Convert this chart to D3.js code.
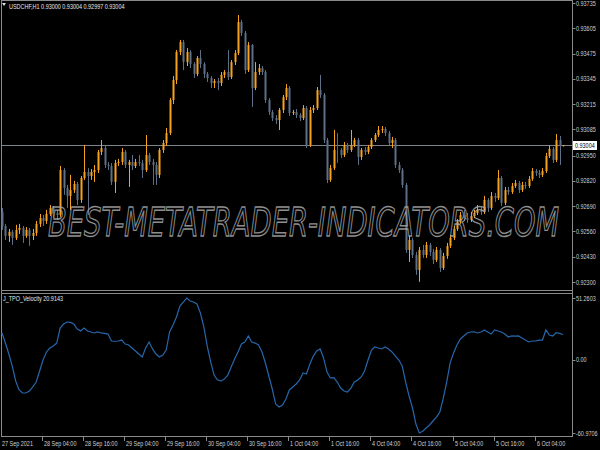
<!DOCTYPE html>
<meta charset="utf-8">

<!-- Load d3.js -->
<script src="https://d3js.org/d3.v7.min.js"></script>

<style>
  body { margin: 0; background: #000; }
  svg { display: block; }
</style>

<!-- Create a div where the graph will take place -->
<div id="my_dataviz"></div>
<script>

// USDCHF H1 bars, 27 Sep 2021 16:00 -> 6 Oct 2021 12:00 (open = previous close)
var firstOpen = 0.92661
var closes = [0.92588,0.92537,0.92558,0.92527,0.92568,0.92578,0.92537,0.92568,0.92537,0.92552,
  0.92599,0.92629,0.92614,0.92650,0.92681,0.92655,0.92645,0.92876,0.92784,0.92743,
  0.92773,0.92804,0.92722,0.92835,0.92866,0.92845,0.92866,0.92876,0.92969,0.92989,
  0.92902,0.92897,0.92815,0.92912,0.92917,0.92969,0.92902,0.92917,0.92897,0.92917,
  0.92912,0.92876,0.92953,0.92917,0.92902,0.92851,0.92979,0.93015,0.93066,0.93236,
  0.93339,0.93483,0.93534,0.93431,0.93483,0.93421,0.93370,0.93452,0.93421,0.93370,
  0.93349,0.93323,0.93334,0.93323,0.93365,0.93380,0.93354,0.93431,0.93478,0.93637,
  0.93581,0.93390,0.93519,0.93298,0.93380,0.93400,0.93380,0.93236,0.93174,0.93143,
  0.93133,0.93185,0.93251,0.93298,0.93169,0.93174,0.93159,0.93143,0.93195,0.93005,
  0.93185,0.93195,0.93287,0.93262,0.93030,0.92825,0.92886,0.92979,0.92979,0.92953,
  0.93005,0.92979,0.93005,0.93030,0.92943,0.92979,0.92969,0.92994,0.93030,0.93056,
  0.93082,0.93087,0.93066,0.93015,0.93030,0.92902,0.92876,0.92799,0.92465,0.92516,
  0.92439,0.92362,0.92465,0.92439,0.92491,0.92455,0.92414,0.92465,0.92372,0.92434,
  0.92486,0.92527,0.92573,0.92609,0.92645,0.92629,0.92619,0.92640,0.92655,0.92671,
  0.92660,0.92722,0.92681,0.92743,0.92732,0.92835,0.92707,0.92773,0.92763,0.92794,
  0.92809,0.92773,0.92799,0.92794,0.92830,0.92871,0.92861,0.92851,0.92871,0.92948,
  0.92984,0.92928,0.93030,0.93000,0.93004]
var highs = [0.92681,0.92599,0.92573,0.92568,0.92594,0.92599,0.92588,0.92583,0.92578,0.92573,
  0.92614,0.92650,0.92645,0.92671,0.92696,0.92691,0.92671,0.92897,0.92886,0.92799,
  0.92851,0.92820,0.92815,0.92845,0.93005,0.92886,0.92881,0.92902,0.92979,0.93030,
  0.93000,0.92917,0.92912,0.92928,0.92933,0.92989,0.92979,0.92928,0.92953,0.92933,
  0.92953,0.92928,0.93056,0.92964,0.92933,0.92917,0.92989,0.93030,0.93092,0.93246,
  0.93359,0.93493,0.93545,0.93545,0.93503,0.93493,0.93431,0.93462,0.93493,0.93431,
  0.93380,0.93359,0.93344,0.93349,0.93380,0.93390,0.93493,0.93442,0.93493,0.93673,
  0.93648,0.93591,0.93534,0.93524,0.93431,0.93421,0.93411,0.93390,0.93246,0.93185,
  0.93159,0.93195,0.93262,0.93318,0.93308,0.93185,0.93190,0.93169,0.93210,0.93205,
  0.93200,0.93210,0.93303,0.93365,0.93272,0.93041,0.92902,0.93082,0.93066,0.92989,
  0.93020,0.93015,0.93082,0.93041,0.93041,0.92989,0.92994,0.93005,0.93041,0.93066,
  0.93102,0.93102,0.93097,0.93077,0.93046,0.93041,0.92917,0.92886,0.92809,0.92537,
  0.92527,0.92455,0.92480,0.92491,0.92506,0.92501,0.92470,0.92480,0.92475,0.92450,
  0.92501,0.92542,0.92588,0.92624,0.92660,0.92671,0.92655,0.92660,0.92671,0.92696,
  0.92686,0.92743,0.92732,0.92763,0.92758,0.92876,0.92845,0.92789,0.92789,0.92809,
  0.92825,0.92820,0.92815,0.92815,0.92845,0.92886,0.92881,0.92876,0.92886,0.92964,
  0.93000,0.92994,0.93061,0.93051,0.93004]
var lows = [0.92568,0.92516,0.92506,0.92491,0.92516,0.92547,0.92501,0.92527,0.92486,0.92516,
  0.92537,0.92583,0.92588,0.92599,0.92640,0.92629,0.92619,0.92635,0.92748,0.92681,
  0.92671,0.92758,0.92696,0.92707,0.92825,0.92645,0.92825,0.92815,0.92861,0.92953,
  0.92886,0.92876,0.92799,0.92758,0.92897,0.92902,0.92886,0.92789,0.92876,0.92886,
  0.92897,0.92835,0.92866,0.92902,0.92799,0.92799,0.92835,0.92964,0.93000,0.93056,
  0.93215,0.93318,0.93467,0.93390,0.93411,0.93400,0.93349,0.93359,0.93400,0.93349,
  0.93329,0.93298,0.93298,0.93287,0.93308,0.93349,0.93339,0.93344,0.93416,0.93467,
  0.93565,0.93370,0.93380,0.93200,0.93287,0.93365,0.93365,0.93221,0.93159,0.93128,
  0.93113,0.93082,0.93169,0.93236,0.93154,0.93159,0.93143,0.93128,0.93133,0.92989,
  0.92994,0.93169,0.93185,0.93246,0.93015,0.92809,0.92815,0.92876,0.92912,0.92938,
  0.92943,0.92964,0.92969,0.92994,0.92902,0.92928,0.92953,0.92958,0.92984,0.93020,
  0.93046,0.93066,0.93051,0.93000,0.92989,0.92886,0.92861,0.92784,0.92450,0.92403,
  0.92424,0.92337,0.92301,0.92424,0.92424,0.92434,0.92393,0.92403,0.92352,0.92362,
  0.92419,0.92475,0.92516,0.92563,0.92599,0.92614,0.92604,0.92609,0.92629,0.92645,
  0.92645,0.92650,0.92660,0.92671,0.92712,0.92722,0.92691,0.92696,0.92748,0.92753,
  0.92784,0.92758,0.92763,0.92779,0.92784,0.92820,0.92845,0.92835,0.92840,0.92861,
  0.92938,0.92912,0.92917,0.92902,0.92997]

// J_TPO_Velocity, one value per bar
var velocity = [22.2,13.8,4.7,-5.3,-17.7,-25.2,-27.7,-27.7,-26.1,-22.7,
  -18.6,-9.4,-0.3,6.4,9.7,11.3,13.8,26.3,29.6,31.3,
  31.0,29.6,25.5,23.8,26.3,23.8,23.0,22.2,23.0,22.2,
  21.9,21.3,15.5,15.3,15.5,16.3,13.0,12.2,9.7,7.2,
  4.7,2.2,9.7,14.7,8.9,4.7,2.2,3.9,8.0,23.0,
  28.8,35.5,44.6,47.9,51.2603,48.8,47.9,46.3,38.8,27.2,
  11.3,-1.9,-12.8,-16.9,-17.7,-16.1,-12.8,-6.1,0.5,6.4,
  13.0,14.7,19.7,14.7,13.8,12.2,6.4,-2.8,-13.6,-24.4,
  -36.9,-39.4,-37.7,-32.7,-25.2,-22.7,-20.2,-16.9,-11.1,-11.9,
  -3.6,3.0,7.2,8.9,1.4,-10.3,-15.2,-15.0,-18.6,-23.6,
  -26.1,-26.9,-23.6,-18.6,-16.9,-14.4,-9.4,-0.3,8.0,10.5,
  9.7,8.9,10.5,8.9,6.4,3.0,-0.3,-5.3,-18.6,-30.2,
  -40.2,-53.5,-60.9706,-59.5,-56.8,-54.3,-51.0,-47.7,-43.5,-31.9,
  -18.6,-2.8,5.5,12.2,17.2,19.7,22.2,23.0,23.2,22.2,
  23.0,24.7,23.0,21.3,24.7,23.8,23.0,21.3,18.8,19.7,
  19.5,19.7,18.0,16.3,14.7,15.5,15.5,16.3,16.3,24.7,
  20.5,19.7,22.5,21.8,20.9143]

// axis labels
var priceTicks = [0.93735,0.93605,0.93475,0.93345,0.93215,0.93085,0.92950,0.92820,0.92690,0.92560,0.92430,0.92300]
var velTicks = [51.2603, 0, -60.9706]
var velTickLabels = ["51.2603", "0.00", "-60.9706"]
var timeLabels = ["27 Sep 2021","28 Sep 04:00","28 Sep 16:00","29 Sep 04:00","29 Sep 16:00","30 Sep 04:00",
  "30 Sep 16:00","1 Oct 04:00","1 Oct 16:00","4 Oct 04:00","4 Oct 16:00","5 Oct 04:00","5 Oct 16:00","6 Oct 04:00"]
var timeLabelBars = [0,12,24,36,48,60,72,84,96,108,120,132,144,156]

var bid = 0.93004
var title = "USDCHF,H1  0.93000 0.93004 0.92997 0.93004"
var indName = "J_TPO_Velocity 20.9143"

// build the bars
var bars = closes.map(function(c, i){
  return { i: i, o: i == 0 ? firstOpen : closes[i-1], h: highs[i], l: lows[i], c: c }
})

var width = 600
var height = 450
var axisX = 572.5
var bullColor = "#f7a21c"
var bearColor = "#5d7088"
var dojiColor = "#1f9a1f"
var frameColor = "#8a8a8a"
var textColor = "#d0d0d0"
var font = "Liberation Sans, Arial, sans-serif"

var svg = d3.select("#my_dataviz")
  .append("svg")
    .attr("width", width)
    .attr("height", height)
    .style("background", "#000")

var x = d3.scaleLinear().domain([0, closes.length - 1]).range([2, 563])
var y = d3.scaleLinear().domain([0.92300, 0.93735]).range([282, 3])
var yv = d3.scaleLinear().domain([-60.9706, 51.2603]).range([433, 298])

// small condensed text like the terminal font
function label(g, str, tx, ty, anchor, color) {
  return g.append("text")
    .attr("transform", "translate(" + tx + "," + ty + ") scale(0.78,1)")
    .attr("text-anchor", anchor || "start")
    .style("font-family", font)
    .style("font-size", "7px")
    .style("fill", color || textColor)
    .text(str)
}

// frames
var frame = svg.append("g").attr("stroke", frameColor).attr("stroke-width", 1).attr("shape-rendering", "crispEdges")
frame.append("line").attr("x1", 1.5).attr("x2", 1.5).attr("y1", 0).attr("y2", 437)
frame.append("line").attr("x1", axisX).attr("x2", axisX).attr("y1", 0).attr("y2", 437)
frame.append("line").attr("x1", 1).attr("x2", axisX).attr("y1", 0.5).attr("y2", 0.5)
frame.append("line").attr("x1", 1).attr("x2", axisX).attr("y1", 290.5).attr("y2", 290.5)
frame.append("line").attr("x1", 1).attr("x2", axisX).attr("y1", 293.5).attr("y2", 293.5)
frame.append("line").attr("x1", 1).attr("x2", axisX).attr("y1", 436.5).attr("y2", 436.5)

// bid line
svg.append("line")
  .attr("x1", 2).attr("x2", axisX)
  .attr("y1", Math.round(y(bid)) + 0.5).attr("y2", Math.round(y(bid)) + 0.5)
  .attr("stroke", "#7d848c").attr("stroke-width", 1)

// candles
function barColor(d) {
  if (d.c == d.o) return dojiColor
  return d.c > d.o ? bullColor : bearColor
}
var candle = svg.append("g").selectAll("g")
  .data(bars)
  .enter()
  .append("g")
candle.append("line")
  .attr("x1", function(d){ return Math.round(x(d.i)) + 0.5 })
  .attr("x2", function(d){ return Math.round(x(d.i)) + 0.5 })
  .attr("y1", function(d){ return y(d.h) })
  .attr("y2", function(d){ return y(d.l) })
  .attr("stroke", barColor)
  .attr("stroke-width", 1)
candle.filter(function(d){ return d.c != d.o })
  .append("rect")
  .attr("x", function(d){ return Math.round(x(d.i)) - 0.5 })
  .attr("width", 2)
  .attr("y", function(d){ return y(Math.max(d.o, d.c)) })
  .attr("height", function(d){ return Math.max(1, Math.abs(y(d.o) - y(d.c))) })
  .attr("fill", barColor)

// watermark, squeezed to span x 48..565
var wm = svg.append("text")
  .attr("x", 0)
  .attr("y", 0)
  .style("font-family", "DejaVu Sans, sans-serif")
  .style("font-style", "italic")
  .style("font-size", "39px")
  .style("fill", "none")
  .style("stroke", "#a6a6a6")
  .style("stroke-width", 1)
  .style("opacity", 0.85)
  .text("BEST-METATRADER-INDICATORS.COM")
var wmLen = wm.node().getComputedTextLength() + 8
wm.attr("transform", "translate(48,236) scale(" + (517 / wmLen) + ",1)")
  .style("stroke-width", 1.3)

// indicator line
var line = d3.line()
  .x(function(d, i){ return x(i) })
  .y(function(d){ return yv(d) })
svg.append("path")
  .datum(velocity)
  .attr("d", line)
  .attr("fill", "none")
  .attr("stroke", "#2766aa")
  .attr("stroke-width", 1.2)

// price axis
var axis = svg.append("g")
axis.selectAll("line.pt")
  .data(priceTicks)
  .enter()
  .append("line")
    .attr("x1", axisX).attr("x2", axisX + 3)
    .attr("y1", function(d){ return Math.round(y(d)) + 0.5 })
    .attr("y2", function(d){ return Math.round(y(d)) + 0.5 })
    .attr("stroke", frameColor)
priceTicks.forEach(function(d){
  label(axis, d.toFixed(5), 576, y(d) + 2.5)
})

// current bid box
axis.append("rect")
  .attr("x", 573).attr("y", Math.round(y(bid)) - 4)
  .attr("width", 24).attr("height", 9)
  .attr("fill", "#fff")
label(axis, bid.toFixed(5), 575, y(bid) + 2.5, "start", "#000")

// indicator axis
velTicks.forEach(function(d, i){
  axis.append("line")
    .attr("x1", axisX).attr("x2", axisX + 3)
    .attr("y1", Math.round(yv(d)) + 0.5).attr("y2", Math.round(yv(d)) + 0.5)
    .attr("stroke", frameColor)
  label(axis, velTickLabels[i], 576, yv(d) + 2.5)
})

// time axis
timeLabels.forEach(function(t, k){
  var tx = Math.round(x(timeLabelBars[k])) - 0.5
  if (k > 0) {
    axis.append("line")
      .attr("x1", tx).attr("x2", tx)
      .attr("y1", 437).attr("y2", 441)
      .attr("stroke", frameColor)
  }
  label(axis, t, k == 0 ? 2 : tx + 1.5, 445.5)
})

// titles
svg.append("path")
  .attr("d", "M2,3 L6,3 L4,6 Z")
  .attr("fill", "#e0e0e0")
label(svg, title, 9, 8.5, "start", "#e8e8e8")
label(svg, indName, 3, 301, "start", "#e8e8e8")

</script>
